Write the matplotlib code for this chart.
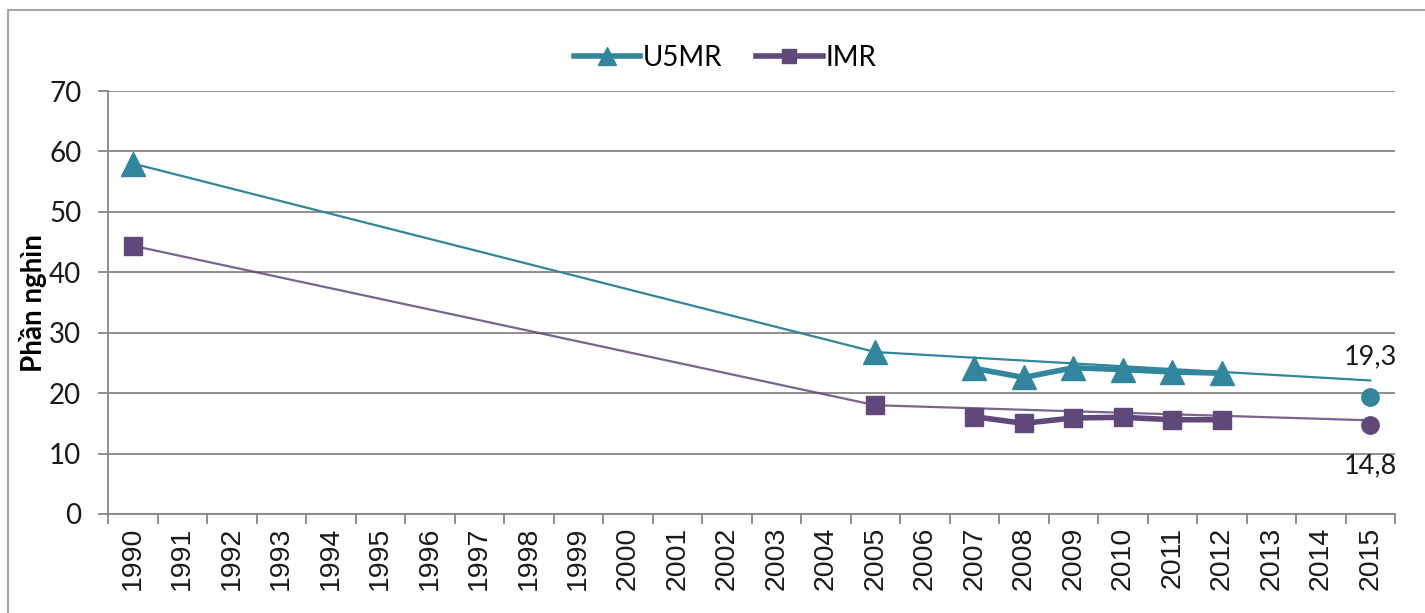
import numpy as np
import matplotlib
matplotlib.use('Agg')
import matplotlib.pyplot as plt
from matplotlib.patches import Rectangle

plt.rcParams['font.family'] = ['Lato', 'DejaVu Sans']

# Data
years = ['1990', '1991', '1992', '1993', '1994', '1995', '1996', '1997', '1998',
         '1999', '2000', '2001', '2002', '2003', '2004', '2005', '2006', '2007',
         '2008', '2009', '2010', '2011', '2012', '2013', '2014', '2015']
nan = np.nan
u5mr = [58.0, nan, nan, nan, nan, nan, nan, nan, nan, nan, nan, nan, nan, nan, nan,
        26.8, nan, 24.1, 22.6, 24.2, 23.9, 23.5, 23.3, nan, nan, nan]
imr = [44.4, nan, nan, nan, nan, nan, nan, nan, nan, nan, nan, nan, nan, nan, nan,
       18.0, nan, 16.1, 15.0, 15.9, 16.0, 15.6, 15.6, nan, nan, nan]

# thin trend lines
trend_years = ['1990', '2005', '2015']
u5mr_trend = [58.0, 26.8, 22.1]
imr_trend = [44.4, 18.0, 15.5]

# 2015 targets
target_year = '2015'
u5mr_target = 19.3
imr_target = 14.8

teal = '#31859c'
purple = '#60497a'
grey = '#868686'

W, H = 1425, 613
fig = plt.figure(figsize=(W / 100, H / 100), dpi=100)
ax = fig.add_axes([108 / W, 1 - 514 / H, (1395 - 108) / W, (514 - 91) / H])

ax.plot(years, u5mr, color=teal, lw=4, marker='^', ms=17, zorder=3, label='U5MR')
ax.plot(years, imr, color=purple, lw=4, marker='s', ms=13, zorder=3, label='IMR')
ax.plot(trend_years, u5mr_trend, color=teal, lw=1.6, zorder=4)
ax.plot(trend_years, imr_trend, color=purple, lw=1.6, alpha=0.85, zorder=4)

xi = years.index(target_year)
ax.plot([xi], [u5mr_target], 'o', color=teal, ms=12.5, zorder=5)
ax.plot([xi], [imr_target], 'o', color=purple, ms=12.5, zorder=5)
ax.annotate(str(u5mr_target).replace('.', ','), xy=(xi, u5mr_target), xytext=(0, 29),
            textcoords='offset points', ha='center', va='center', fontsize=19.5, color='#1a1a1a')
ax.annotate(str(imr_target).replace('.', ','), xy=(xi, imr_target), xytext=(0, -30),
            textcoords='offset points', ha='center', va='center', fontsize=19.5, color='#1a1a1a')

ax.set_xlim(-0.5, len(years) - 0.5)
ax.set_ylim(0, 70)
ax.set_yticks(np.arange(0, 71, 10))
ax.set_xticks(np.arange(len(years)))
ax.set_xticklabels(years)
ax.set_xticks(np.arange(-0.5, len(years)), minor=True)

ax.grid(axis='y', color=grey, lw=1.3)
ax.set_axisbelow(True)
for s in ['top', 'right']:
    ax.spines[s].set_visible(False)
for s in ['left', 'bottom']:
    ax.spines[s].set_color(grey)
    ax.spines[s].set_linewidth(1.3)

ax.tick_params(axis='y', length=7.2, width=1.3, color=grey, labelsize=20, pad=12,
               labelcolor='#1a1a1a')
ax.tick_params(axis='x', which='major', length=0, labelrotation=90, labelsize=20.5, pad=9,
               labelcolor='#1a1a1a')
ax.tick_params(axis='x', which='minor', length=7.2, width=1.3, color=grey)
# year labels are in an Arial-like face in the original
for tick in ax.xaxis.get_major_ticks():
    tick.label1.set_fontfamily(['Liberation Sans', 'DejaVu Sans'])

ax.legend(loc='center', bbox_to_anchor=(725 / W, 1 - 58 / H), bbox_transform=fig.transFigure,
          ncol=2, frameon=False, fontsize=20, handlelength=2.4, handletextpad=0.1,
          columnspacing=1.2, markerscale=0.8)

fig.text(33 / W, 1 - 303 / H, 'Phần nghìn', rotation=90, fontweight='bold', fontsize=20,
         ha='center', va='center')

fig.add_artist(Rectangle((8 / W, -0.1), 1.2, 1 - 10 / H + 0.1, fill=False,
                         edgecolor='#a6a6a6', lw=1.5, transform=fig.transFigure))

fig.savefig('out.png', dpi=100)
